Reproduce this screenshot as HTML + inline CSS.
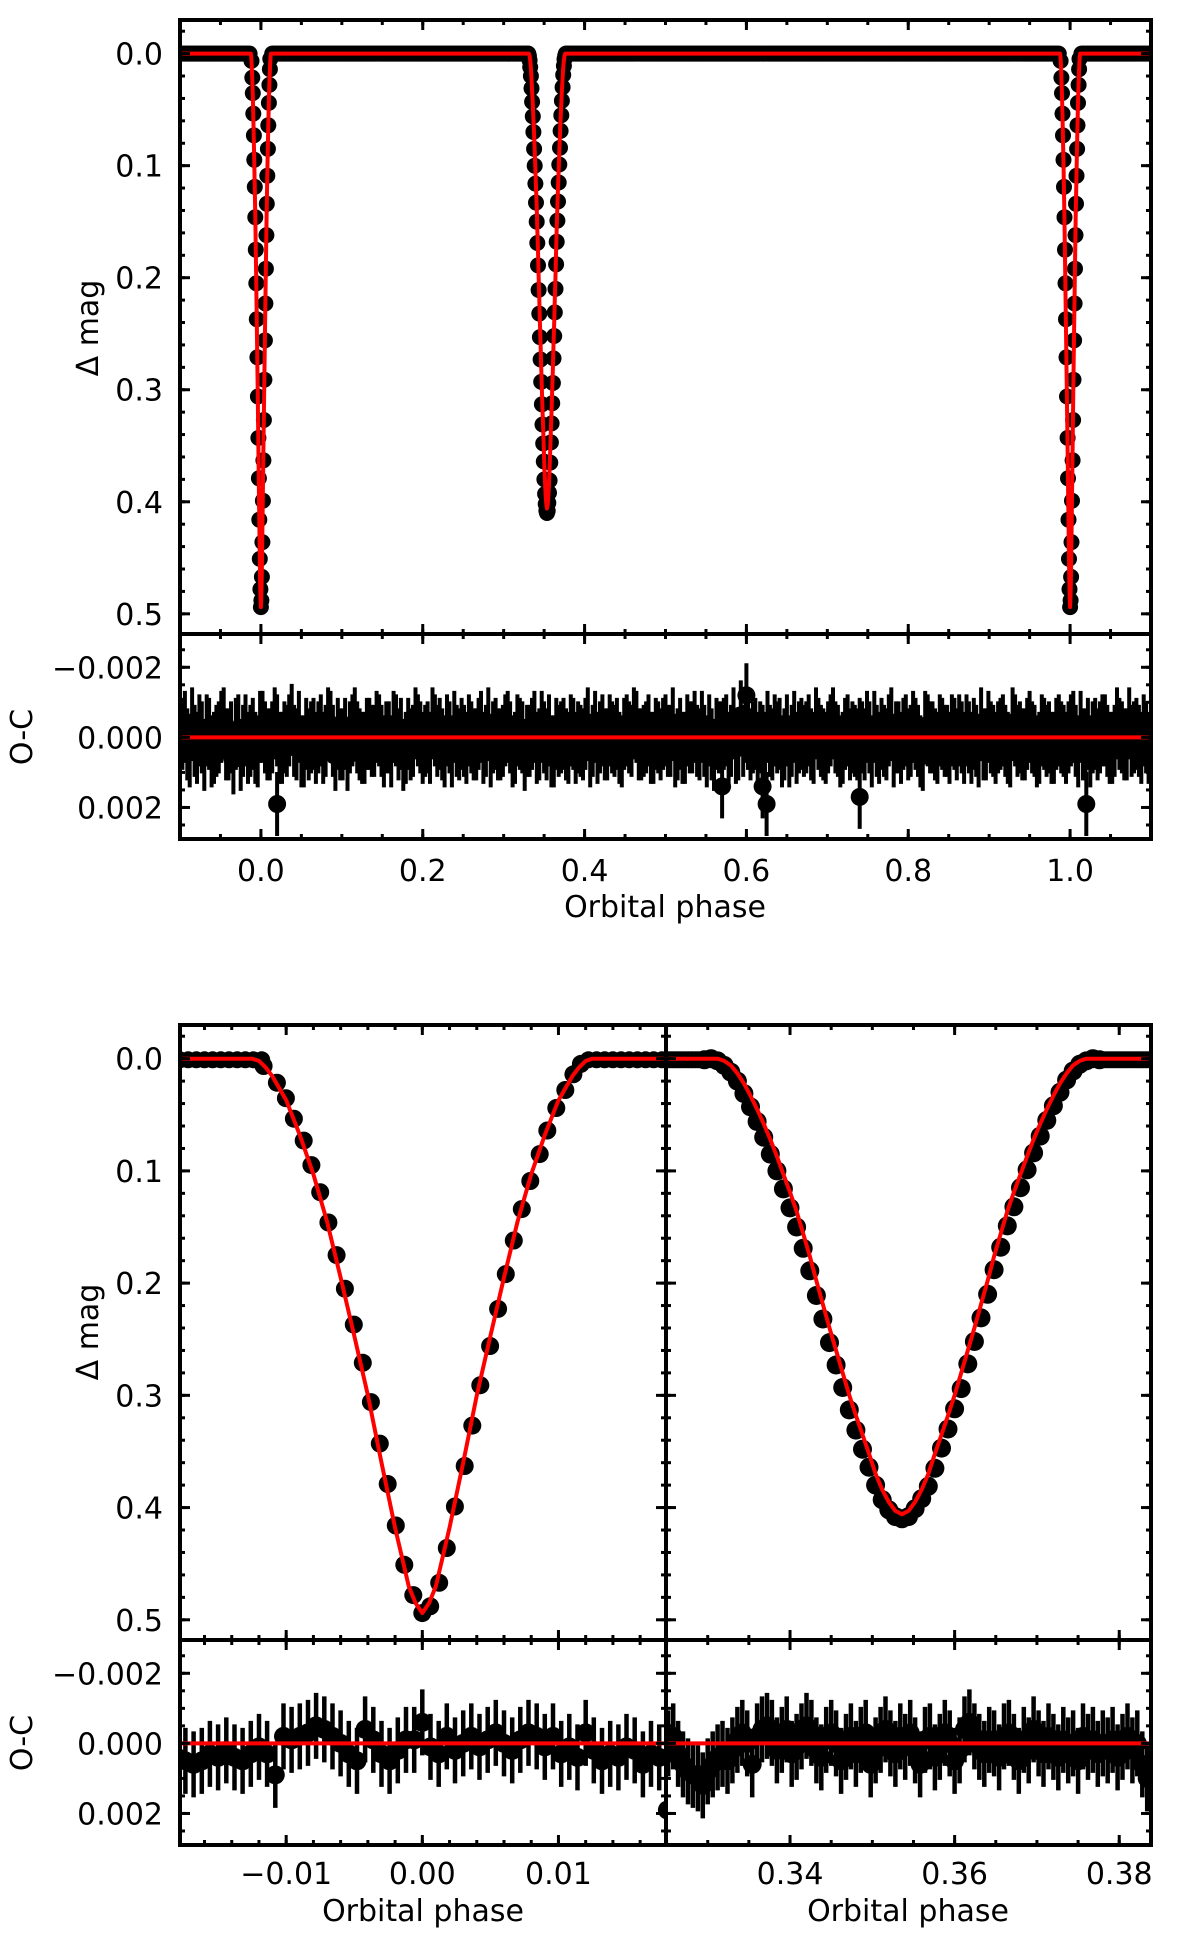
<!DOCTYPE html>
<html><head><meta charset="utf-8"><title>Eclipsing binary light curve</title>
<style>
html,body{margin:0;padding:0;background:#fff;}
svg{display:block;}
text{font-family:"DejaVu Sans","Liberation Sans",sans-serif;font-size:30px;fill:#000;}
</style></head>
<body>
<svg id="fig" width="1200" height="1948" viewBox="0 0 1200 1948" xmlns="http://www.w3.org/2000/svg">
<defs>
<clipPath id="cTop"><rect x="180" y="20" width="971" height="614"/></clipPath>
<clipPath id="cTopR"><rect x="180" y="634" width="971" height="205"/></clipPath>
<clipPath id="cBL"><rect x="180" y="1025" width="486" height="615"/></clipPath>
<clipPath id="cBR"><rect x="666" y="1025" width="485" height="615"/></clipPath>
<clipPath id="cBLR"><rect x="180" y="1640" width="486" height="205"/></clipPath>
<clipPath id="cBRR"><rect x="666" y="1640" width="485" height="205"/></clipPath>
</defs>
</svg>
<script>
// ---------- data ----------
const priPhase = [-0.01166,-0.01068,-0.01002,-0.00943,-0.00871,-0.00815,-0.0075,-0.0069,-0.0063,-0.00569,-0.00503,-0.00437,-0.00378,-0.00312,-0.00254,-0.00195,-0.00132,-0.00066,0,0.00058,0.00124,0.0018,0.00239,0.00311,0.00367,0.00426,0.00498,0.00557,0.00613,0.00672,0.00731,0.00793,0.00862,0.00918,0.00984,0.0105,0.0111,0.01165];
const priMag = [0.0065,0.0214,0.0352,0.0535,0.073,0.0948,0.119,0.146,0.175,0.205,0.237,0.271,0.306,0.343,0.379,0.416,0.451,0.478,0.494,0.488,0.467,0.436,0.399,0.363,0.327,0.291,0.256,0.223,0.192,0.162,0.134,0.109,0.085,0.064,0.044,0.0279,0.0139,0.0047];
const modPriD = [0,0.0005,0.001,0.002,0.003,0.004,0.005,0.006,0.007,0.008,0.009,0.010,0.011,0.0115,0.012,0.0125];
const modPriM = [0.494,0.485,0.47,0.418,0.36,0.30,0.247,0.195,0.145,0.103,0.068,0.037,0.016,0.008,0.002,0];
const secCenter = 0.3536;
const secObsD = [-0.024,-0.0232,-0.0224,-0.0216,-0.0208,-0.02,-0.0192,-0.0184,-0.0176,-0.0168,-0.016,-0.0152,-0.0144,-0.0136,-0.0128,-0.012,-0.0112,-0.0104,-0.0096,-0.0088,-0.008,-0.0072,-0.0064,-0.0056,-0.0048,-0.004,-0.0032,-0.0024,-0.0016,-0.0008,0,0.0008,0.0016,0.0024,0.0032,0.004,0.0048,0.0056,0.0064,0.0072,0.008,0.0088,0.0096,0.0104,0.0112,0.012,0.0128,0.0136,0.0144,0.0152,0.016,0.0168,0.0176,0.0184,0.0192,0.02,0.0208,0.0216,0.0224,0.0232,0.024];
const secObsM = [0.001,0.000,0.002,0.006,0.012,0.020,0.031,0.043,0.056,0.070,0.085,0.100,0.116,0.133,0.150,0.169,0.189,0.211,0.232,0.253,0.273,0.293,0.313,0.331,0.348,0.364,0.380,0.393,0.402,0.408,0.410,0.408,0.401,0.392,0.381,0.365,0.347,0.330,0.312,0.294,0.272,0.252,0.231,0.210,0.188,0.168,0.149,0.132,0.115,0.099,0.084,0.069,0.055,0.042,0.030,0.019,0.011,0.005,0.002,0.000,0.001];
const modSecD = [0,0.0008,0.0016,0.0024,0.0032,0.004,0.0048,0.0056,0.0064,0.0072,0.008,0.0088,0.0096,0.0104,0.0112,0.012,0.0128,0.0136,0.0144,0.0152,0.016,0.0168,0.0176,0.0184,0.0192,0.02,0.0208,0.0216,0.0224];
const modSecM = [0.406,0.403,0.395,0.384,0.370,0.352,0.335,0.318,0.300,0.280,0.260,0.240,0.219,0.198,0.176,0.156,0.136,0.119,0.103,0.087,0.072,0.058,0.045,0.033,0.022,0.013,0.006,0.002,0.0];
// residuals (units of 1e-4 mag, positive = fainter); two interleaved sets
const resTop = [2,-3,4,1,-2,5,-1,3,0,-4,2,6,-2,1,3,-1,4,-3,2,0,
 -2,3,1,-5,2,4,-1,0,3,-2,1,-3,5,2,-1,0,-4,2,3,-1,
 1,-2,4,0,-3,2,5,-1,1,-2,3,0,-4,1,2,-2,4,1,-1,3,
 0,2,-3,1,4,-1,2,-2,0,3,-1,5,1,-3,2,0,-2,4,1,-1,
 3,-1,0,2,-4,1,3,-2,2,0,-1,4,-2,1,-3,2,0,3,-1,2,
 -2,1,4,-1,3,0,-3,2,1,-2,5,0,-1,3,-4,2,1,-1,0,3,
 1,-3,2,0,4,-2,1,3,-1,0,2,-4,1,3,-2,0,4,-1,2,1,
 -1,2,0,-3,3,1,-2,4,0,-1,2,-3,1,5,-2,0,3,-1,1,-2,
 2,0,-2,3,1,-4,2,0,3,-1,1,4,-2,0,2,-3,1,3,-1,0,
 3,-2,1,0,-3,4,2,-1,0,2,-2,1,3,-4,0,2,1,-1,3,0];
const resTop2 = [-1,2,-4,3,0,-2,4,1,-3,2,0,-1,5,-2,1,3,-3,0,2,-4,
 3,0,-2,1,-3,4,2,-1,0,3,-4,1,-1,2,5,-2,0,3,-1,1,
 -3,1,0,4,-2,-1,3,2,-4,0,1,3,-2,-1,4,0,-3,2,1,-2,
 2,-1,3,-4,0,2,1,-3,4,-2,0,1,-1,3,-3,2,4,-1,0,2,
 -2,3,1,-1,4,-3,0,2,-2,1,3,-1,0,-4,2,1,-2,3,0,-1,
 1,-4,2,3,-2,0,1,-3,4,2,-1,0,-2,1,3,-6,-3,2,-1,0,
 3,1,-2,-1,2,4,-3,0,1,-2,3,-1,2,0,-4,1,3,-2,0,2,
 0,-3,4,1,-1,2,-4,0,3,-2,1,-1,4,-3,0,2,-2,1,3,-1,
 -2,3,0,-1,4,2,-3,1,0,-2,3,-4,1,2,-1,0,4,-2,1,3,
 -1,0,3,-2,1,-3,2,4,-1,0,-2,3,1,-1,2,-4,0,1,-2,3];
const outPhase = [0.02,0.57,0.60,0.62,0.625,0.74,1.02];
const outVal = [19,14,-12,14,19,17,19];
const resLeft = [4,5,6,5,3,4, 2,4,5,3, 1,3,9, -2,-1,-2,-3,-5,-4, -2,0,3,5, -4,-1,3,5, 2,-1,-1,-6, 1,3,-2,2,0, -2,1,-1,-3,0,2,-1,-3,-2,1, -2,3,1,4,-3, 2,5,3,4,1, 2,6,3,4,19];
const resRight = [0,-2,3,6,8,9,10,12,8,6, 4,3,5,2,-1,-3,0,6,-2,-4, -5,-3,2,-1,-4,3,1,-2,-5,-3, 2,4,-1,-3,0,5,1,-2,3,-1, -3,6,2,-1,-4,0,3,-2,1,-3, 2,6,-1,-2,4,1,-3,0,5,2, -4,-6,-2,1,3,-1,0,4,-2,-3, 1,5,-1,2,-4,0,3,-2,1,4, -1,2,0,5,-2,1,-1,3,0,2, -1,4,1,-2,2,0,6,10];
const topXTicks = ["0.0","0.2","0.4","0.6","0.8","1.0"];
const magTicks = ["0.0","0.1","0.2","0.3","0.4","0.5"];
const resTicks = ["\u22120.002","0.000","0.002"];
const blXTicks = ["\u22120.01","0.00","0.01"];
const brXTicks = ["0.34","0.36","0.38"];

// ---------- helpers ----------
const NS = "http://www.w3.org/2000/svg";
const svg = document.getElementById("fig");
function mk(tag, attrs, parent){ const e=document.createElementNS(NS,tag); for(const k in attrs) e.setAttribute(k,attrs[k]); (parent||svg).appendChild(e); return e; }
function lin(d0,d1,r0,r1){ return v => r0 + (v-d0)/(d1-d0)*(r1-r0); }

const xTop = lin(-0.1,1.1,180,1151);
const yTop = lin(-0.03,0.518,20,634);
const yTopR = lin(-0.00295,0.0029,634,839);
const xBL = lin(-0.0178,0.0179,180,666);
const xBR = lin(0.32493,0.38386,666,1151);
const yB = lin(-0.03,0.518,1025,1640);
const yBR = lin(-0.00295,0.0029,1640,1845);

function modelPts(center, D, M){ const pts=[]; for(let i=D.length-1;i>=0;i--) pts.push([center-D[i],M[i]]); for(let i=1;i<D.length;i++) pts.push([center+D[i],M[i]]); return pts; }
function dot(g,x,y,r){ const c=mk("circle",{cx:x.toFixed(1),cy:y.toFixed(1),r:r,fill:"#000"},g);

 }
function errbar(g,x,y,h,r,w){ const l=mk("line",{x1:x.toFixed(1),x2:x.toFixed(1),y1:(y-h).toFixed(1),y2:(y+h).toFixed(1),stroke:"#000","stroke-width":w||4},g);


dot(g,x,y,r); }
function modelLine(g,pts,xs,ys){ let d=""; pts.forEach((p,i)=>{ d+=(i?"L":"M")+xs(p[0]).toFixed(1)+" "+ys(p[1]).toFixed(1); }); const p=mk("path",{d:d,fill:"none",stroke:"#ff0000","stroke-width":4,"stroke-linejoin":"round"},g);

 return p; }

function drawPanelFrame(x0,y0,x1,y1,name){ const r=mk("rect",{x:x0,y:y0,width:x1-x0,height:y1-y0,fill:"none",stroke:"#000","stroke-width":4});

 }
function xTicks(xs,y0,y1,from,to,step,len){ for(let v=from; v<=to+1e-9; v+=step){ const x=xs(v); mk("line",{x1:x,x2:x,y1:y0,y2:y0+len,stroke:"#000","stroke-width":3}); mk("line",{x1:x,x2:x,y1:y1,y2:y1-len,stroke:"#000","stroke-width":3}); } }
function yTicks(ys,x0,x1,from,to,step,len){ for(let v=from; v<=to+1e-12; v+=step){ const y=ys(v); mk("line",{x1:x0,x2:x0+len,y1:y,y2:y,stroke:"#000","stroke-width":3}); mk("line",{x1:x1,x2:x1-len,y1:y,y2:y,stroke:"#000","stroke-width":3}); } }
function label(txt,x,y,anchor,name,rot){ const t=mk("text",{x:x,y:y,"text-anchor":anchor}); t.textContent=txt; if(rot) t.setAttribute("transform","rotate(-90 "+x+" "+y+")");

 return t; }

// ---------- top main panel ----------
const gTop = mk("g",{"clip-path":"url(#cTop)"});


for(let p=-0.1; p<=1.1; p+=0.002){
  const inE = Math.abs(p)<0.0125 || Math.abs(p-1)<0.0125 || Math.abs(p-secCenter)<0.023;
  if(!inE) dot(gTop,xTop(p),yTop(0),8);
}
[0,1].forEach(c=>{ priPhase.forEach((p,i)=>dot(gTop,xTop(c+p),yTop(priMag[i]),8)); });
secObsD.forEach((d,i)=>dot(gTop,xTop(secCenter+d),yTop(secObsM[i]),8));
{ const pts=[[-0.1,0]]; modelPts(0,modPriD,modPriM).forEach(p=>pts.push(p)); modelPts(secCenter,modSecD,modSecM).forEach(p=>pts.push(p)); modelPts(1,modPriD,modPriM).forEach(p=>pts.push(p)); pts.push([1.1,0]); modelLine(gTop,pts,xTop,yTop); }

// top residuals
const gTopR = mk("g",{"clip-path":"url(#cTopR)"});


resTop.forEach((v,i)=>{ errbar(gTopR,xTop(-0.1+i*0.006),yTopR(v*1e-4),36,10,4); });
resTop2.forEach((v,i)=>{ errbar(gTopR,xTop(-0.097+i*0.006),yTopR(v*1e-4),36,10,4); });
outPhase.forEach((p,i)=>errbar(gTopR,xTop(p),yTopR(outVal[i]*1e-4),32,9,4));
modelLine(gTopR,[[-0.1,0],[1.1,0]],xTop,yTopR);

drawPanelFrame(180,20,1151,634,"top-main-axes");
drawPanelFrame(180,634,1151,839,"top-residual-axes");
xTicks(xTop,20,634,-0.1,1.1,0.05,5); xTicks(xTop,20,634,0,1.0,0.2,10);
xTicks(xTop,634,839,-0.1,1.1,0.05,5); xTicks(xTop,634,839,0,1.0,0.2,10);
yTicks(yTop,180,1151,-0.02,0.51,0.02,5); yTicks(yTop,180,1151,0,0.5,0.1,10);
yTicks(yTopR,180,1151,-0.0025,0.0026,0.0005,5); yTicks(yTopR,180,1151,-0.002,0.0021,0.002,10);
magTicks.forEach((t,i)=>label(t,163,yTop(i*0.1)+11,"end","y-tick-label"));
resTicks.forEach((t,i)=>label(t,163,yTopR(-0.002+i*0.002)+11,"end","residual-tick-label"));
topXTicks.forEach((t,i)=>label(t,xTop(i*0.2),881,"middle","x-tick-label"));
label("Orbital phase",665,917,"middle","x-axis-title");
label("\u0394 mag",98,328,"middle","y-axis-title",true);
label("O-C",32,737,"middle","residual-axis-title",true);

// ---------- bottom left (primary) ----------
const gBL = mk("g",{"clip-path":"url(#cBL)"});


for(let p=-0.0178; p<0.0182; p+=0.0006){ if(Math.abs(p)>0.0118) dot(gBL,xBL(p),yB(0.001),8.5); }
priPhase.forEach((p,i)=>dot(gBL,xBL(p),yB(priMag[i]),9));
{ const pts=[[-0.02,0]]; modelPts(0,modPriD,modPriM).forEach(p=>pts.push(p)); pts.push([0.02,0]); modelLine(gBL,pts,xBL,yB); }

const gBR = mk("g",{"clip-path":"url(#cBR)"});


for(let p=0.3249; p<0.3845; p+=0.0004){ if(Math.abs(p-secCenter)>0.024) dot(gBR,xBR(p),yB(0.001),8.5); }
secObsD.forEach((d,i)=>dot(gBR,xBR(secCenter+d),yB(secObsM[i]),9.5));
{ const pts=[[0.32,0]]; modelPts(secCenter,modSecD,modSecM).forEach(p=>pts.push(p)); pts.push([0.39,0]); modelLine(gBR,pts,xBR,yB); }

const gBLR = mk("g",{"clip-path":"url(#cBLR)"});


resLeft.forEach((v,i)=>errbar(gBLR,xBL(-0.018+i*0.0006),yBR(v*1e-4),33,9.5,4.5));
modelLine(gBLR,[[-0.02,0],[0.02,0]],xBL,yBR);

const gBRR = mk("g",{"clip-path":"url(#cBRR)"});


resRight.forEach((v,i)=>errbar(gBRR,xBR(0.3252+i*0.0006),yBR(v*1e-4),33,9.5,4.5));
modelLine(gBRR,[[0.32,0],[0.39,0]],xBR,yBR);

drawPanelFrame(180,1025,666,1640,"primary-main-axes");
drawPanelFrame(666,1025,1151,1640,"secondary-main-axes");
drawPanelFrame(180,1640,666,1845,"primary-residual-axes");
drawPanelFrame(666,1640,1151,1845,"secondary-residual-axes");
xTicks(xBL,1025,1640,-0.016,0.0179,0.002,5); xTicks(xBL,1025,1640,-0.01,0.0101,0.01,10);
xTicks(xBL,1640,1845,-0.016,0.0179,0.002,5); xTicks(xBL,1640,1845,-0.01,0.0101,0.01,10);
xTicks(xBR,1025,1640,0.325,0.3838,0.005,5); xTicks(xBR,1025,1640,0.34,0.3801,0.02,10);
xTicks(xBR,1640,1845,0.325,0.3838,0.005,5); xTicks(xBR,1640,1845,0.34,0.3801,0.02,10);
yTicks(yB,180,666,-0.02,0.51,0.02,5); yTicks(yB,180,666,0,0.5,0.1,10);
yTicks(yB,666,1151,-0.02,0.51,0.02,5); yTicks(yB,666,1151,0,0.5,0.1,10);
yTicks(yBR,180,666,-0.0025,0.0026,0.0005,5); yTicks(yBR,180,666,-0.002,0.0021,0.002,10);
yTicks(yBR,666,1151,-0.0025,0.0026,0.0005,5); yTicks(yBR,666,1151,-0.002,0.0021,0.002,10);
magTicks.forEach((t,i)=>label(t,163,yB(i*0.1)+11,"end","y-tick-label"));
resTicks.forEach((t,i)=>label(t,163,yBR(-0.002+i*0.002)+11,"end","residual-tick-label"));
blXTicks.forEach((t,i)=>label(t,xBL(-0.01+i*0.01),1884,"middle","x-tick-label"));
brXTicks.forEach((t,i)=>label(t,xBR(0.34+i*0.02),1884,"middle","x-tick-label"));
label("Orbital phase",423,1921,"middle","x-axis-title-left");
label("Orbital phase",908,1921,"middle","x-axis-title-right");
label("\u0394 mag",98,1332,"middle","y-axis-title",true);
label("O-C",32,1743,"middle","residual-axis-title",true);
</script>
</body></html>
